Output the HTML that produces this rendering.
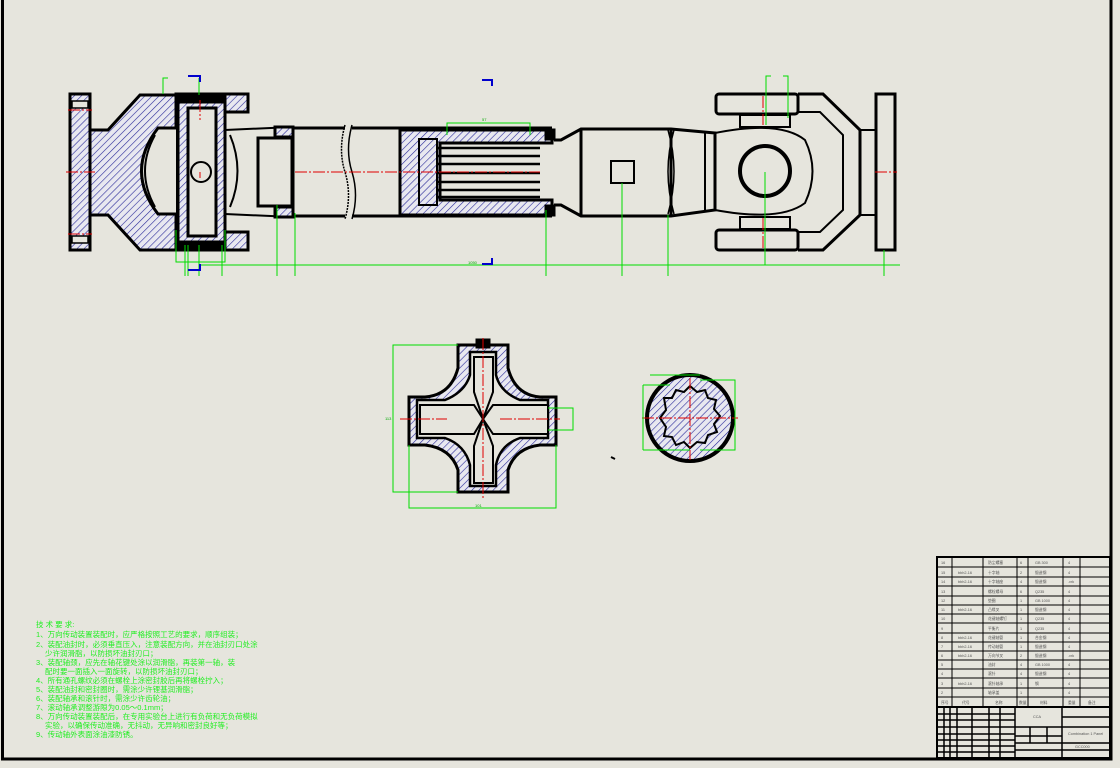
<!DOCTYPE html>
<html><head><meta charset="utf-8"><style>
html,body{margin:0;padding:0;background:#e6e5dd;}
svg{display:block;font-family:"Liberation Sans","Noto Sans CJK SC",sans-serif;}
</style></head><body>
<svg width="1120" height="768" viewBox="0 0 1120 768" xmlns="http://www.w3.org/2000/svg">
<defs>
<pattern id="h" width="5" height="5" patternUnits="userSpaceOnUse" patternTransform="rotate(45)">
<rect width="5" height="5" fill="#e8e8f0"/><line x1="0" y1="0" x2="0" y2="5" stroke="#2a2a9a" stroke-width="1.2"/>
</pattern>
</defs>
<rect width="1120" height="768" fill="#e6e5dd"/>
<path d="M2.5 0 V759 H1111 V0" fill="none" stroke="#000" stroke-width="3"/>

<g stroke="#000" stroke-width="3" fill="none">
<rect x="70" y="94" width="20" height="156" fill="url(#h)"/>
<rect x="72" y="101" width="16" height="7" fill="#e6e5dd" stroke-width="1.5"/>
<rect x="72" y="236" width="16" height="7" fill="#e6e5dd" stroke-width="1.5"/>
<path d="M90 130 H108 L140 95 H176 V250 H140 L108 215 H90 Z" fill="url(#h)"/>
<path d="M176 94 H248 V112 H225 V130 H176 Z" fill="url(#h)"/>
<path d="M176 250 H248 V232 H225 V214 H176 Z" fill="url(#h)"/>
<path d="M176 128 H158 Q125 171 158 214 H176" fill="#e6e5dd"/>
<path d="M155 135 Q135 171 155 207" stroke-width="2"/>
<path d="M230 135 Q245 171 230 207" stroke-width="2"/>
<rect x="178" y="102" width="47" height="140" fill="url(#h)"/>
<rect x="188" y="108" width="28" height="128" fill="#e6e5dd"/>
<circle cx="201" cy="172" r="10" fill="#e6e5dd" stroke-width="2"/>
<rect x="176" y="94" width="49" height="8" fill="#000"/>
<rect x="176" y="242" width="49" height="8" fill="#000"/>
<path d="M225 130 L293 127 M225 214 L293 217" stroke-width="2"/>
<rect x="258" y="138" width="34" height="68" stroke-width="3"/>
<path d="M275 127 H293 V137 H275 Z" fill="url(#h)"/>
<path d="M275 207 H293 V217 H275 Z" fill="url(#h)"/>
<path d="M293 128 H345 M352 128 H552 M293 216 H345 M352 216 H552"/>
<line x1="293" y1="128" x2="293" y2="216"/>
<path d="M345 125 Q338 150 345 172 Q352 195 345 219" stroke-width="1.5" stroke-dasharray="2 1"/>
<path d="M352 125 Q345 150 352 172 Q359 195 352 219" stroke-width="1.5"/>
<path d="M400 130 H552 V143 H440 V200 H552 V215 H400 Z" fill="url(#h)"/>
<line x1="400" y1="143" x2="400" y2="200"/>
<rect x="419" y="139" width="18" height="66" stroke-width="2"/>
<path d="M438 148 H540 M438 156 H540 M438 164 H540 M438 173 H540 M438 182 H540 M438 190 H540 M438 197 H540" stroke-width="2.5"/>
<rect x="546" y="130" width="8" height="9" fill="#000"/>
<rect x="546" y="206" width="8" height="9" fill="#000"/>
<path d="M554 140 H561 L581 129 H671 L715 133 V210 L671 216 H581 L561 205 H554"/>
<line x1="581" y1="129" x2="581" y2="216"/>
<line x1="671" y1="129" x2="671" y2="216"/>
<path d="M668 130 Q680 171 668 214 M674 130 Q662 171 674 214" stroke-width="1.5"/>
<line x1="705" y1="131" x2="705" y2="212" stroke-width="2"/>
<rect x="611" y="161" width="23" height="22" stroke-width="2"/>
<rect x="716" y="94" width="82" height="20" rx="3"/>
<rect x="716" y="230" width="82" height="20" rx="3"/>
<path d="M798 94 H823 L860 130 V215 L823 250 H798"/>
<path d="M798 112 H820 L843 135 V210 L820 232 H798" stroke-width="2"/>
<rect x="740" y="115" width="50" height="12" stroke-width="2"/>
<rect x="740" y="217" width="50" height="12" stroke-width="2"/>
<path d="M715 133 Q780 120 805 140 Q820 171 805 203 Q780 222 715 210" stroke-width="2"/>
<circle cx="765" cy="171" r="25" stroke-width="4"/>
<rect x="860" y="130" width="16" height="85" stroke-width="2"/>
<rect x="876" y="94" width="19" height="156"/>

<path d="M458 345 H508 V368 Q515 395 540 397 H556 V445 H540 Q515 448 508 470 V492 H458 V470 Q451 448 425 445 H409 V397 H425 Q451 395 458 368 Z" fill="url(#h)"/>
<path d="M470 352 H496 V375 Q500 392 520 400 H548 V438 H520 Q500 445 496 465 V486 H470 V465 Q465 445 445 438 H417 V400 H445 Q465 392 470 375 Z" fill="#e6e5dd" stroke-width="2.5"/>
<path d="M474 357 H493 V392 L483 419 L493 446 V483 H474 V446 L483 419 L474 392 Z" fill="url(#h)" stroke-width="1.5"/>
<path d="M420 405 H474 L483 419 L474 434 H420 Z M548 405 H493 L483 419 L493 434 H548 Z" fill="#e6e5dd" stroke-width="2"/>
<path d="M474 357 H493 V392 L483 419 L474 392 Z M474 483 H493 V446 L483 419 L474 446 Z" fill="#e6e5dd" stroke-width="2"/>
<rect x="477" y="340" width="12" height="7" fill="#000"/>
<circle cx="690" cy="418" r="43" fill="url(#h)" stroke-width="4"/>
<path d="M664 398 L672 398 L676 390 L684 392 L690 386 L697 392 L705 390 L708 398 L716 400 L714 409 L720 416 L714 424 L717 432 L708 435 L705 443 L697 442 L690 448 L684 442 L676 445 L672 437 L664 436 L666 427 L660 418 L666 410 Z" fill="url(#h)" stroke-width="2"/>
<path d="M611 457 l4 2" stroke-width="2"/>
</g>

<g stroke="#e00000" stroke-width="1" stroke-dasharray="12 2 2 2" fill="none">
<line x1="66" y1="172" x2="95" y2="172"/><line x1="68" y1="110" x2="92" y2="110"/><line x1="68" y1="234" x2="92" y2="234"/>
<line x1="295" y1="172" x2="540" y2="172"/>
<line x1="200" y1="100" x2="200" y2="120"/><line x1="200" y1="172" x2="200" y2="178"/>
<line x1="763" y1="96" x2="763" y2="125"/><line x1="763" y1="218" x2="763" y2="250"/>
<line x1="875" y1="172" x2="897" y2="172"/>
<line x1="483" y1="338" x2="483" y2="500"/><line x1="400" y1="419" x2="447" y2="419"/><line x1="500" y1="419" x2="560" y2="419"/>
<line x1="690" y1="378" x2="690" y2="460"/><line x1="642" y1="418" x2="738" y2="418"/>
</g>

<g stroke="#00dd00" stroke-width="1" fill="none">
<path d="M163 94 V78 H168"/><path d="M199 95 V78"/>
<path d="M176 230 V262 H225 V230"/><path d="M185 245 V276 M188 245 V276 M199 245 V276 M222 245 V276"/>
<path d="M200 265 H900"/>
<path d="M277 205 V276 M295 213 V276 M546 210 V276 M884 250 V276"/>
<path d="M447 135 V123 H530 V135"/>
<path d="M622 183 V276 M668 215 V276 M765 172 V265"/>
<path d="M766 125 V76 H771 M788 118 V76 H783"/>
<path d="M458 345 H393 V492 H458"/><path d="M409 445 V508 H556 V445"/>
<path d="M548 408 H573 V430 H548"/>
<path d="M650 375 H700"/><path d="M643 385 H670 M643 450 H690 M643 385 V450"/><path d="M700 380 H735 V450 H700"/>
</g>
<g font-size="4" fill="#00aa00">
<text x="482" y="121">57</text><text x="468" y="264">1050</text><text x="475" y="507">101</text><text x="385" y="420">113</text>
</g>
<g stroke="#0000cc" stroke-width="2" fill="none">
<path d="M188 76 H200 V82"/><path d="M482 80 H492 V86"/><path d="M188 270 H200 V264"/><path d="M482 264 H492 V258"/>
</g>

<g font-size="7.5" fill="#22ee22">
<text x="36" y="627">技 术 要 求:</text>
<text x="36" y="637">1、万向传动装置装配时，应严格按照工艺的要求，顺序组装；</text>
<text x="36" y="647">2、装配油封时，必须垂直压入，注意装配方向，并在油封刃口处涂</text>
<text x="45" y="656">少许润滑脂，以防损坏油封刃口；</text>
<text x="36" y="665">3、装配轴颈，应先在轴花键处涂以润滑脂，再装第一轴，装</text>
<text x="45" y="674">配时要一面插入一面旋转，以防损坏油封刃口；</text>
<text x="36" y="683">4、所有通孔螺纹必须在螺栓上涂密封胶后再将螺栓拧入；</text>
<text x="36" y="692">5、装配油封和密封圈时，需涂少许锂基润滑脂；</text>
<text x="36" y="701">6、装配轴承和滚针时，需涂少许齿轮油；</text>
<text x="36" y="710">7、滚动轴承调整游隙为0.05～0.1mm；</text>
<text x="36" y="719">8、万向传动装置装配后，在专用实验台上进行有负荷和无负荷模拟</text>
<text x="45" y="728">实验，以确保传动准确，无抖动，无异响和密封良好等；</text>
<text x="36" y="737">9、传动轴外表面涂油漆防锈。</text>
</g>

<g stroke="#000" fill="none">
<rect x="937" y="557" width="173" height="201" stroke-width="2"/>
<g stroke-width="1">
<path d="M937 567 H1110 M937 577 H1110 M937 586 H1110 M937 596 H1110 M937 605 H1110 M937 614 H1110 M937 623 H1110 M937 633 H1110 M937 642 H1110 M937 651 H1110 M937 660 H1110 M937 669 H1110 M937 678 H1110 M937 688 H1110 M937 697 H1110"/>
<path d="M952 557 V707 M983 557 V707 M1017 557 V707 M1028 557 V707 M1063 557 V707 M1080 557 V707"/>
</g>
<line x1="937" y1="707" x2="1110" y2="707" stroke-width="2"/>
<g stroke-width="1.5">
<path d="M1015 707 V758 M1062 707 V758"/>
<path d="M937 714 H1015 M937 720 H1015 M937 727 H1015 M937 734 H1015 M937 740 H1015 M937 746 H1015 M937 752 H1015"/>
<path d="M944 707 V758 M950 707 V758 M957 707 V758 M972 707 V758 M989 707 V758 M1000 707 V758"/>
<path d="M1015 727 H1110 M1015 736 H1062 M1015 743 H1110 M1015 750 H1110"/>
<path d="M1030 727 V743 M1047 727 V743 M1062 717 H1110"/>
</g>
</g>
<g font-size="3.8" fill="#555">
<text x="941" y="564">16</text><text x="988" y="564">防尘螺塞</text><text x="1020" y="564">6</text><text x="1035" y="564">GB 300</text><text x="1068" y="564">4</text>
<text x="941" y="574">15</text><text x="958" y="574">bbh2-16</text><text x="988" y="574">十字轴</text><text x="1020" y="574">2</text><text x="1035" y="574">锻造钢</text><text x="1068" y="574">4</text>
<text x="941" y="583">14</text><text x="958" y="583">bbh2-16</text><text x="988" y="583">十字轴座</text><text x="1020" y="583">4</text><text x="1035" y="583">锻造钢</text><text x="1068" y="583">.vrk</text>
<text x="941" y="593">13</text><text x="988" y="593">螺栓螺母</text><text x="1020" y="593">6</text><text x="1035" y="593">Q235</text><text x="1068" y="593">4</text>
<text x="941" y="602">12</text><text x="988" y="602">垫圈</text><text x="1020" y="602">1</text><text x="1035" y="602">GB 1000</text><text x="1068" y="602">4</text>
<text x="941" y="611">11</text><text x="958" y="611">bbh2-16</text><text x="988" y="611">凸缘叉</text><text x="1020" y="611">1</text><text x="1035" y="611">锻造钢</text><text x="1068" y="611">4</text>
<text x="941" y="620">10</text><text x="988" y="620">花键轴螺钉</text><text x="1020" y="620">1</text><text x="1035" y="620">Q235</text><text x="1068" y="620">4</text>
<text x="941" y="630">9</text><text x="988" y="630">平衡片</text><text x="1020" y="630">1</text><text x="1035" y="630">Q235</text><text x="1068" y="630">4</text>
<text x="941" y="639">8</text><text x="958" y="639">bbh2-16</text><text x="988" y="639">花键轴管</text><text x="1020" y="639">1</text><text x="1035" y="639">合金钢</text><text x="1068" y="639">4</text>
<text x="941" y="648">7</text><text x="958" y="648">bbh2-16</text><text x="988" y="648">传动轴管</text><text x="1020" y="648">1</text><text x="1035" y="648">锻造钢</text><text x="1068" y="648">4</text>
<text x="941" y="657">6</text><text x="958" y="657">bbh2-16</text><text x="988" y="657">万向节叉</text><text x="1020" y="657">2</text><text x="1035" y="657">锻造钢</text><text x="1068" y="657">.vrk</text>
<text x="941" y="666">5</text><text x="988" y="666">油封</text><text x="1020" y="666">4</text><text x="1035" y="666">GB 1000</text><text x="1068" y="666">4</text>
<text x="941" y="675">4</text><text x="988" y="675">滚针</text><text x="1020" y="675">4</text><text x="1035" y="675">锻造钢</text><text x="1068" y="675">4</text>
<text x="941" y="685">3</text><text x="958" y="685">bbh2-16</text><text x="988" y="685">滚针轴承</text><text x="1020" y="685">1</text><text x="1035" y="685">钢</text><text x="1068" y="685">4</text>
<text x="941" y="694">2</text><text x="988" y="694">轴承盖</text><text x="1020" y="694">1</text><text x="1068" y="694">4</text>
<text x="941" y="704">序号</text><text x="962" y="704">代号</text><text x="995" y="704">名称</text><text x="1019" y="704">数量</text><text x="1040" y="704">材料</text><text x="1068" y="704">重量</text><text x="1088" y="704">备注</text>
<text x="1033" y="718">CCA</text><text x="1068" y="735">Combination 1 Panel</text><text x="1075" y="748">GCC000</text>
</g>
</svg>
</body></html>
